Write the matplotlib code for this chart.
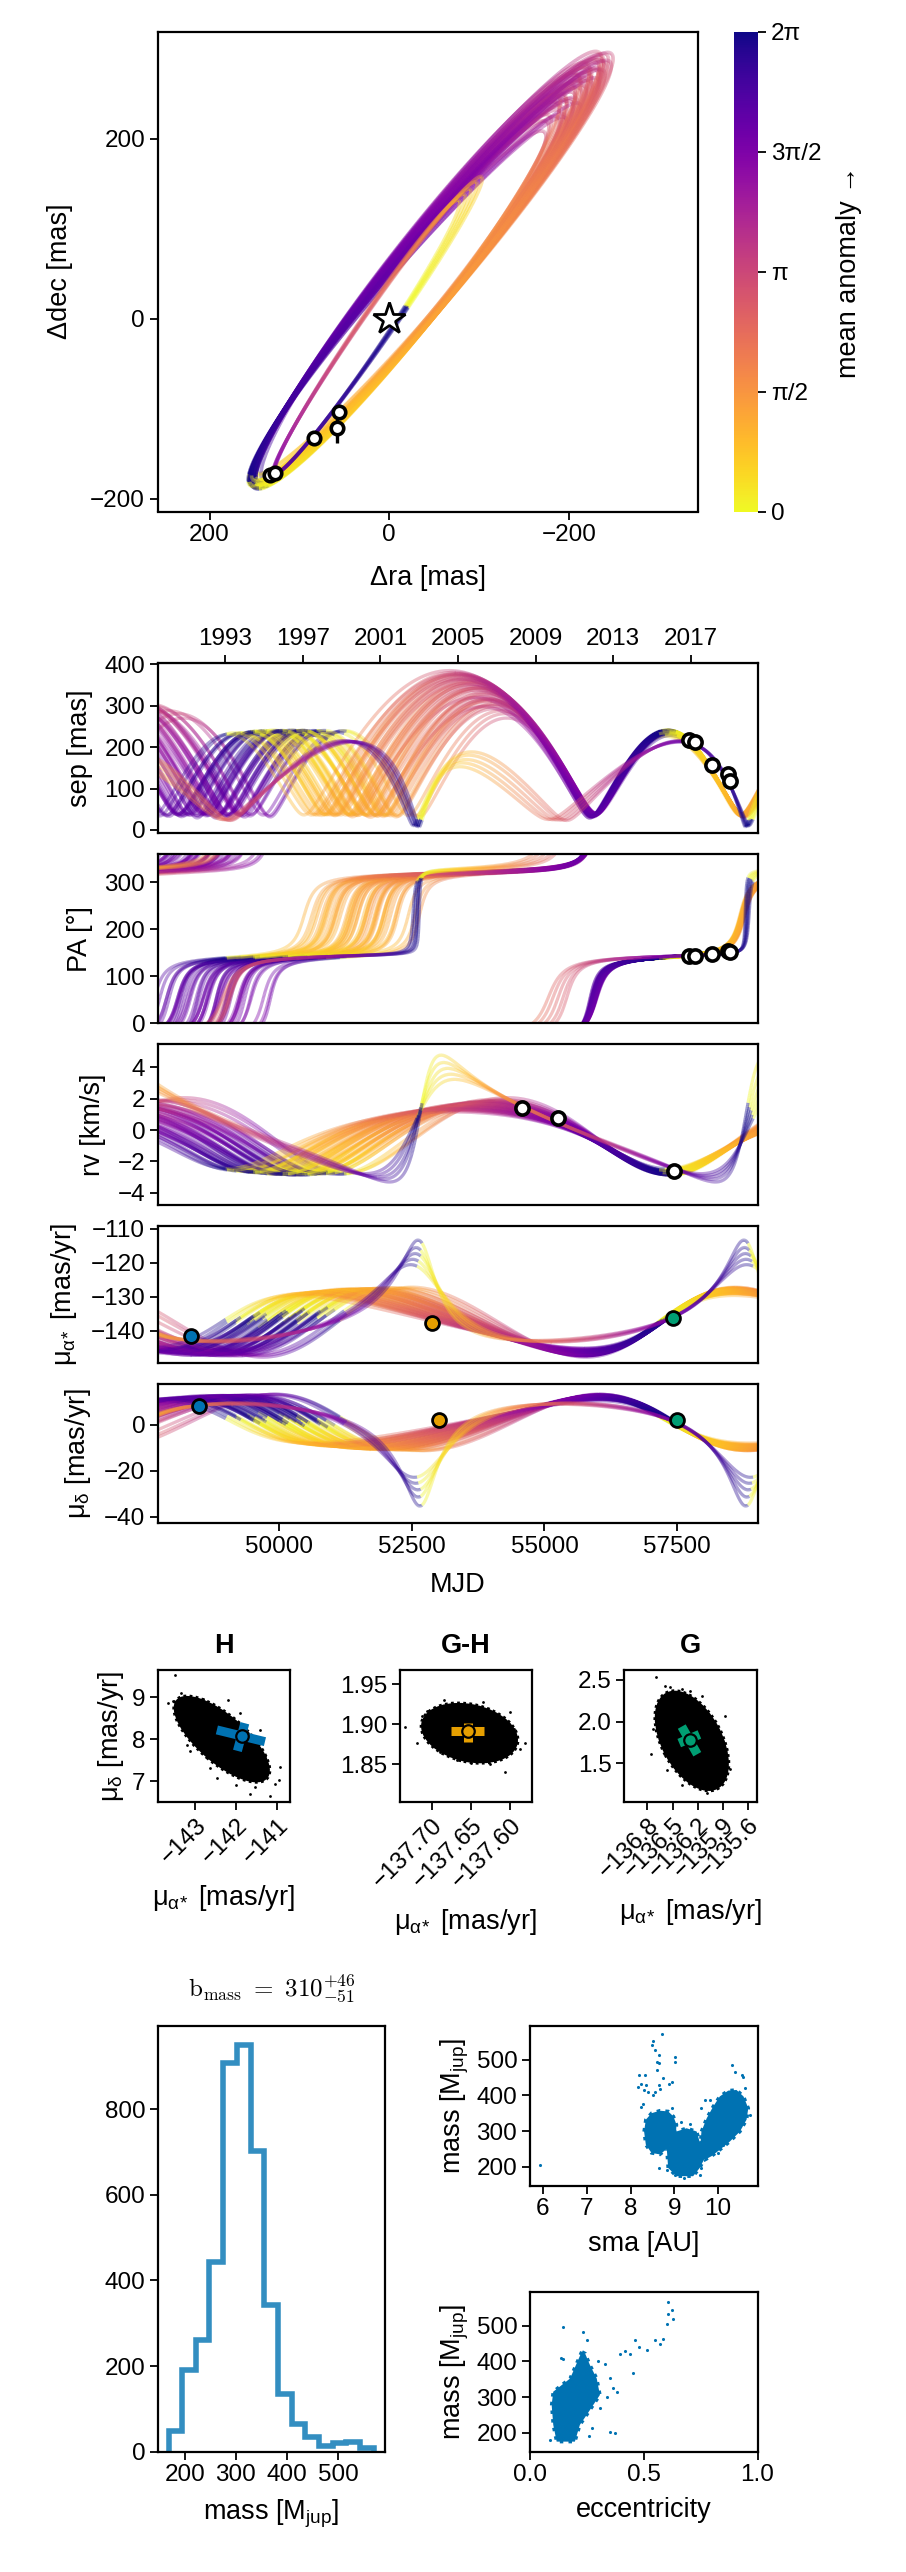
import numpy as np
import matplotlib
matplotlib.use("Agg")
import matplotlib.pyplot as plt
from matplotlib.collections import LineCollection
from matplotlib.patches import Ellipse, Polygon
from matplotlib.colors import Normalize
from matplotlib.cm import ScalarMappable

# ---------------- observations ----------------
astrom_mjd = np.array([57720, 57830, 58150, 58456, 58488])
astrom_ra = np.array([132.5, 126.9, 83.1, 57.5, 55.7])
astrom_dec = np.array([-173.3, -171.5, -132.6, -121.5, -103.7])
astrom_ra_err = np.array([2, 2, 4, 3, 2])
astrom_dec_err = np.array([2, 2, 4, 16, 3])

rv_mjd = np.array([54572, 55248, 57446])
rv_kms = np.array([1.38, 0.79, -2.62])

pm_names = ["H", "G-H", "G"]
pm_colors = ["#0072B2", "#E69F00", "#009E73"]
pm_mjd_ra = np.array([48335, 52884, 57423])
pm_mjd_dec = np.array([48487, 53004, 57500])
pm_ra_obs = np.array([-141.6, -137.654, -136.29])
pm_dec_obs = np.array([8.07, 1.95, 1.90])

# ---------------- posterior orbit draws ----------------
# main family: epochs of the two conjunctions bracketing the 2016 elongation
main_e = [0.06, 0.08, 0.10, 0.10, 0.12, 0.12, 0.13, 0.13, 0.14, 0.14, 0.14, 0.15, 0.15, 0.15,
          0.16, 0.16, 0.16, 0.17, 0.17, 0.17, 0.18, 0.18, 0.18, 0.19, 0.19, 0.19, 0.20, 0.20,
          0.20, 0.21, 0.21, 0.21, 0.22, 0.22, 0.22, 0.23, 0.23, 0.24, 0.24, 0.25,
          0.11, 0.135, 0.155, 0.175, 0.195, 0.205, 0.225, 0.235]
main_a = [255, 260, 266, 262, 272, 268, 276, 270, 279, 276, 262, 282, 280, 276, 286, 287, 270,
          289, 290, 275, 293, 291, 294, 296, 295, 290, 300, 298, 296, 303, 301, 298, 305, 303,
          300, 306, 304, 307, 305, 308,
          270, 278, 284, 291, 297, 301, 305, 306]
main_om = [-6, 5, -3, 9, 0, -10, 3, 12, -4, 6, -14, 1, -8, 10, 7, -2, 16, -5, 4, -16, 0, 9, -7,
           2, -4, 13, -3, 6, -11, 1, -6, 10, -2, 5, -9, 3, -5, 0, 8, -3,
           2, -6, 5, -1, 7, -5, 1, -8]
main_inc = [82.9, 82.5, 83.2, 82.2, 82.7, 83.1, 82.6, 82.1, 83.1, 82.4, 83.4, 82.7, 83.0, 82.2,
            82.3, 82.9, 81.9, 83.0, 82.5, 83.5, 82.7, 82.2, 83.1, 82.6, 82.9, 82.0, 82.9, 82.4,
            83.3, 82.7, 83.0, 82.2, 82.8, 82.5, 83.2, 82.6, 83.0, 82.7, 82.3, 82.9,
            82.8, 83.0, 82.4, 82.8, 82.3, 83.0, 82.7, 83.1]
main_Om = [140.3, 141.2, 140.0, 141.6, 140.7, 139.4, 140.9, 141.9, 140.1, 141.4, 138.9, 140.7,
           139.8, 141.8, 141.6, 140.3, 142.5, 140.0, 141.0, 138.7, 140.5, 141.8, 139.8, 140.7,
           140.1, 142.1, 140.1, 141.2, 139.2, 140.7, 140.0, 141.8, 140.5, 141.0, 139.4, 140.9,
           140.0, 140.5, 141.4, 140.1,
           140.5, 140.0, 141.2, 140.5, 141.4, 140.0, 140.7, 139.6]
main_t1 = [2011.98, 2012.06, 2011.90, 2012.10, 2012.00, 2011.85, 2012.02, 2012.12, 2011.94,
           2012.08, 2011.80, 2012.00, 2011.88, 2012.11, 2012.09, 2011.96, 2012.16, 2011.92,
           2012.04, 2011.78, 2011.99, 2012.11, 2011.90, 2012.01, 2011.94, 2012.14, 2011.95,
           2012.07, 2011.84, 2012.01, 2011.91, 2012.12, 2011.97, 2012.05, 2011.86, 2012.03,
           2011.92, 2012.00, 2012.09, 2011.95,
           2012.03, 2011.91, 2012.06, 2011.98, 2012.08, 2011.92, 2012.00, 2011.88]
main_t2 = [2019.68, 2019.62, 2019.72, 2019.60, 2019.70, 2019.75, 2019.66, 2019.58, 2019.71,
           2019.64, 2019.78, 2019.69, 2019.74, 2019.61, 2019.63, 2019.70, 2019.55, 2019.73,
           2019.66, 2019.80, 2019.69, 2019.61, 2019.74, 2019.68, 2019.72, 2019.58, 2019.71,
           2019.64, 2019.77, 2019.68, 2019.73, 2019.60, 2019.70, 2019.65, 2019.76, 2019.67,
           2019.73, 2019.69, 2019.62, 2019.71,
           2019.67, 2019.73, 2019.65, 2019.70, 2019.63, 2019.72, 2019.69, 2019.75]
main_q = [0.165, 0.160, 0.165, 0.160, 0.155, 0.165, 0.160, 0.150, 0.160, 0.155, 0.170, 0.155,
          0.160, 0.150, 0.155, 0.160, 0.150, 0.160, 0.155, 0.165, 0.155, 0.150, 0.160, 0.150,
          0.155, 0.150, 0.150, 0.150, 0.155, 0.145, 0.150, 0.145, 0.145, 0.145, 0.150, 0.140,
          0.145, 0.140, 0.140, 0.135,
          0.160, 0.160, 0.155, 0.155, 0.150, 0.150, 0.145, 0.145]
main_pmra0 = [-137.45, -137.50, -137.40, -137.55, -137.50, -137.40, -137.50, -137.60, -137.45,
              -137.55, -137.35, -137.50, -137.45, -137.60, -137.55, -137.45, -137.60, -137.45,
              -137.50, -137.35, -137.50, -137.55, -137.45, -137.50, -137.45, -137.60, -137.50,
              -137.55, -137.40, -137.50, -137.45, -137.60, -137.50, -137.55, -137.40, -137.55,
              -137.45, -137.50, -137.60, -137.50,
              -137.50, -137.45, -137.55, -137.50, -137.55, -137.45, -137.50, -137.45]
main_pmdec0 = [0.85, 0.95, 0.80, 1.00, 0.90, 0.80, 0.90, 1.05, 0.85, 0.95, 0.75, 0.90, 0.85,
               1.00, 0.95, 0.85, 1.10, 0.85, 0.90, 0.75, 0.90, 1.00, 0.85, 0.90, 0.85, 1.05,
               0.85, 0.95, 0.80, 0.90, 0.85, 1.00, 0.90, 0.95, 0.80, 0.90, 0.85, 0.90, 0.95, 0.85,
               0.90, 0.85, 0.95, 0.90, 0.95, 0.85, 0.90, 0.85]
main_rv0 = [-0.20, -0.25, -0.15, -0.25, -0.20, -0.15, -0.20, -0.30, -0.20, -0.25, -0.10, -0.20,
            -0.15, -0.30, -0.25, -0.20, -0.30, -0.20, -0.25, -0.10, -0.20, -0.25, -0.15, -0.20,
            -0.20, -0.30, -0.20, -0.25, -0.15, -0.20, -0.20, -0.25, -0.20, -0.25, -0.15, -0.20,
            -0.20, -0.20, -0.25, -0.20,
            -0.20, -0.20, -0.25, -0.20, -0.25, -0.20, -0.20, -0.15]

# high-eccentricity family (periastron close to the 2019.7 conjunction)
ecc_P = [17.34, 17.20, 17.04, 16.95, 16.81]
ecc_e = [0.38, 0.43, 0.48, 0.53, 0.58]
ecc_a = [217.9, 218.0, 217.2, 219.0, 220.8]
ecc_inc = [85.59, 85.60, 85.64, 85.65, 85.67]
ecc_Om = [145.1, 145.4, 145.7, 146.1, 146.5]
ecc_om = [99.4, 100.5, 102.1, 102.8, 103.4]
ecc_tp = [2020.21, 2020.15, 2020.10, 2020.02, 2019.95]
ecc_q = [0.231, 0.240, 0.249, 0.255, 0.262]
ecc_pmra0 = [-136.04, -136.05, -136.04, -136.07, -136.10]
ecc_pmdec0 = [-0.60, -0.62, -0.65, -0.64, -0.63]
ecc_rv0 = [0.04, 0.08, 0.12, 0.15, 0.19]

# ---------------- derived-parameter panels ----------------
hist_edges = [168, 195, 222, 248, 275, 302, 329, 356, 382, 409, 436, 463, 490, 516, 543, 570]
hist_counts = [48, 190, 260, 444, 907, 949, 702, 343, 136, 65, 35, 13, 20, 24, 9]

sma_lobe_left = [(8.31, 299), (8.35, 332), (8.48, 350), (8.67, 357), (8.86, 355), (8.98, 341),
                 (9.05, 318), (9.03, 281), (8.86, 253), (8.67, 235), (8.48, 239), (8.35, 262)]
sma_lobe_bottom = [(8.83, 248), (9.05, 299), (9.28, 308), (9.51, 299), (9.62, 253), (9.74, 235),
                   (9.58, 197), (9.43, 174), (9.05, 174), (8.86, 197)]
sma_lobe_right = [(9.62, 299), (9.74, 336), (9.89, 369), (10.04, 397), (10.23, 413), (10.42, 415),
                  (10.58, 397), (10.69, 364), (10.65, 332), (10.50, 299), (10.27, 271), (10.04, 248),
                  (9.85, 230), (9.70, 220), (9.58, 239)]
sma_pts = [5.93, 8.71, 8.52, 8.48, 8.56, 8.66, 8.60, 8.66, 9.01, 9.01, 8.20, 8.33, 8.25, 8.36,
           8.18, 8.40, 8.31, 8.60, 8.75, 8.94, 8.87, 8.68, 8.56, 8.52, 8.64, 8.25, 10.31, 10.39,
           10.54, 10.58, 8.66, 8.83, 9.01, 9.58, 9.62, 10.00, 10.11, 10.35, 10.46, 9.62, 9.69, 9.81,
           8.28, 8.95, 9.15, 9.35, 9.45, 10.72, 10.62, 9.22]
sma_mass_pts = [205, 571, 553, 540, 526, 512, 493, 489, 508, 494, 458, 456, 433, 428, 424, 410,
                414, 470, 447, 438, 433, 419, 410, 400, 428, 368, 485, 466, 457, 451, 197, 192,
                178, 178, 197, 239, 262, 290, 308, 364, 387, 387, 375, 365, 325, 320, 205, 345,
                420, 168]

ecc_blob = [(0.228, 427), (0.177, 352), (0.103, 315), (0.096, 278), (0.103, 222), (0.118, 175),
            (0.198, 175), (0.220, 222), (0.250, 250), (0.308, 306), (0.294, 352), (0.264, 390),
            (0.243, 422)]
ecc_pts = [0.33, 0.396, 0.44, 0.462, 0.513, 0.55, 0.586, 0.601, 0.608, 0.623, 0.608, 0.63,
           0.147, 0.147, 0.135, 0.235, 0.25, 0.352, 0.367, 0.381, 0.455, 0.352, 0.374, 0.272,
           0.30, 0.42, 0.48, 0.57, 0.31, 0.34, 0.09, 0.26]
ecc_mass_pts = [392, 421, 421, 459, 431, 459, 463, 505, 533, 543, 566, 519, 497, 408, 410, 483,
                459, 352, 324, 315, 366, 203, 199, 213, 400, 428, 440, 450, 270, 300, 180, 190]

pm_cloud_center = [(-142.35, 8.0), (-137.652, 1.889), (-136.27, 1.77)]
pm_cloud_size = [(2.9, 1.15, -40), (0.125, 0.072, -12), (1.30, 0.72, -62)]
pm_out_ra = [[-143.49, -143.65, -143.32, -143.04, -143.20, -142.19, -141.91, -141.42, -140.94,
              -140.96, -141.06, -141.18, -141.67, -142.0, -142.47, -142.64, -143.12, -143.53,
              -142.80, -141.55, -143.35, -141.30],
             [-137.734, -137.719, -137.581, -137.607, -137.588, -137.685, -137.635, -137.626,
              -137.668, -137.706, -137.595, -137.712, -137.600, -137.650, -137.690],
             [-136.70, -136.59, -136.53, -136.39, -136.29, -136.75, -136.57, -135.87, -135.85,
              -135.82, -136.09, -136.23, -136.39, -135.93, -136.73, -136.62, -135.95, -136.15]]
pm_out_dec = [[9.52, 8.86, 8.96, 8.98, 7.86, 8.94, 8.62, 8.22, 7.34, 7.02, 6.94, 6.64, 6.70, 6.9,
               7.08, 7.32, 7.72, 8.9, 8.95, 6.85, 9.10, 7.60],
              [1.897, 1.877, 1.877, 1.841, 1.869, 1.930, 1.928, 1.850, 1.855, 1.917, 1.894,
               1.910, 1.915, 1.852, 1.865],
              [2.537, 2.427, 2.41, 2.39, 2.36, 1.617, 1.42, 2.07, 1.44, 1.43, 1.143, 1.24, 1.24,
               1.50, 1.91, 2.25, 1.25, 2.30]]
pm_marker = [(-141.85, 8.07), (-137.654, 1.891), (-136.292, 1.783)]
pm_bars = [[((-142.47, 8.22), (-141.30, 7.94)), ((-141.79, 8.38), (-141.97, 7.72))],
           [((-137.675, 1.891), (-137.634, 1.891)), ((-137.654, 1.901), (-137.654, 1.878))],
           [((-136.39, 1.94), (-136.205, 1.61)), ((-136.42, 1.743), (-136.18, 1.846))]]

# ---------------- orbit model ----------------
PLX = 31.0
KMS = 4.74047
DT = 1e-3
MJD0 = 51544.5


def yr2mjd(y):
    return MJD0 + (np.asarray(y) - 2000.0) * 365.25


def mjd2yr(m):
    return 2000.0 + (np.asarray(m) - MJD0) / 365.25


def solve_kepler(M, e):
    E = M + e * np.sin(M)
    for _ in range(30):
        E = E - (E - e * np.sin(E) - M) / (1.0 - e * np.cos(E))
    return E


def true_to_mean(nu, e):
    E = 2 * np.arctan(np.sqrt((1 - e) / (1 + e)) * np.tan(nu / 2))
    return E - e * np.sin(E)


def rel_orbit(t, P, a, e, inc, Om, om, tp):
    M = np.mod(2 * np.pi * (np.asarray(t, float) - tp) / P, 2 * np.pi)
    E = solve_kepler(M, e)
    nu = 2 * np.arctan2(np.sqrt(1 + e) * np.sin(E / 2), np.sqrt(1 - e) * np.cos(E / 2))
    r = a * (1 - e * np.cos(E))
    i, O = np.radians(inc), np.radians(Om)
    u = np.radians(om) + nu
    dec = r * (np.cos(O) * np.cos(u) - np.sin(O) * np.sin(u) * np.cos(i))
    ra = r * (np.sin(O) * np.cos(u) + np.cos(O) * np.sin(u) * np.cos(i))
    z = r * np.sin(u) * np.sin(i)
    return ra, dec, z, M


def star_motion(t, s):
    t = np.asarray(t, float)
    rp, dp, zp, _ = rel_orbit(t + DT, *s[:7])
    rm, dm, zm, _ = rel_orbit(t - DT, *s[:7])
    q, pr, pd, rv0 = s[7:11]
    pmra = pr - q * (rp - rm) / (2 * DT)
    pmdec = pd - q * (dp - dm) / (2 * DT)
    rv = rv0 - q * (zp - zm) / (2 * DT) / PLX * KMS
    return pmra, pmdec, rv


samples = []
for k in range(len(main_e)):
    e = main_e[k]
    M1 = true_to_mean(np.radians(-90.0 - main_om[k]), e)
    M2 = true_to_mean(np.radians(90.0 - main_om[k]), e)
    P = 2 * np.pi * (main_t2[k] - main_t1[k]) / (M2 - M1)
    tp = main_t1[k] - M1 * P / (2 * np.pi)
    samples.append((P, main_a[k], e, main_inc[k], main_Om[k], main_om[k], tp,
                    main_q[k], main_pmra0[k], main_pmdec0[k], main_rv0[k]))
for k in range(len(ecc_e)):
    samples.append((ecc_P[k], ecc_a[k], ecc_e[k], ecc_inc[k], ecc_Om[k], ecc_om[k], ecc_tp[k],
                    ecc_q[k], ecc_pmra0[k], ecc_pmdec0[k], ecc_rv0[k]))

# ---------------- figure ----------------
plt.rcParams['font.family'] = ['Liberation Sans', 'DejaVu Sans']
plt.rcParams['mathtext.fontset'] = 'custom'
plt.rcParams['mathtext.rm'] = 'Liberation Sans'
plt.rcParams['mathtext.it'] = 'Liberation Sans:italic'
plt.rcParams['mathtext.bf'] = 'Liberation Sans:bold'

W, H = 906, 2572
fig = plt.figure(figsize=(W / 100, H / 100), dpi=100)
CMAP = plt.get_cmap('plasma_r')
NORM = Normalize(0, 2 * np.pi)
TICK_FS = 17.5
LAB_FS = 19.5
BLUE = "#0072B2"
MUA = r"μ$_{\mathrm{α}\!*}$ [mas/yr]"
MUD = r"μ$_{\mathrm{δ}}$ [mas/yr]"
MJUP = r"mass [M$_{\mathrm{jup}}$]"


def px_axes(l, t, r, b):
    return fig.add_axes([l / W, 1 - b / H, (r - l) / W, (b - t) / H])


def style(ax):
    for sp in ax.spines.values():
        sp.set_linewidth(1.6)
    ax.tick_params(direction='out', length=6, width=1.3, labelsize=TICK_FS, pad=3)


def add_colored(ax, x, y, m, jump=None, lw=2.3, alpha=0.42):
    pts = np.column_stack([x, y])
    segs = np.stack([pts[:-1], pts[1:]], axis=1)
    keep = np.ones(len(segs), bool)
    if jump is not None:
        keep = np.abs(np.diff(y)) < jump
    lc = LineCollection(segs[keep], cmap=CMAP, norm=NORM, linewidths=lw, alpha=alpha)
    lc.set_array(m[:-1][keep])
    ax.add_collection(lc)


# sky plane
ax = px_axes(157.5, 31.6, 698, 511.5)
style(ax)
Mg = np.linspace(0, 2 * np.pi, 600)
for s in samples:
    ra, dec, _, M = rel_orbit(s[6] + Mg / (2 * np.pi) * s[0], *s[:7])
    add_colored(ax, ra, dec, M, lw=2.6, alpha=0.45)
ax.errorbar(astrom_ra, astrom_dec, xerr=astrom_ra_err, yerr=astrom_dec_err, fmt='o', ms=9,
            mfc='white', mec='black', mew=2.6, ecolor='black', elinewidth=2.4, capsize=0, zorder=5)
ax.plot([0], [0], marker='*', ms=24, mfc='white', mec='black', mew=2, zorder=6)
ax.set_xlim(257.9, -343.9)
ax.set_ylim(-214.1, 319.2)
ax.set_xticks([200, 0, -200])
ax.set_yticks([-200, 0, 200])
ax.set_xlabel("Δra [mas]", fontsize=LAB_FS, labelpad=14)
ax.set_ylabel("Δdec [mas]", fontsize=LAB_FS, labelpad=12)

cax = px_axes(734, 31.6, 758, 511.5)
cb = fig.colorbar(ScalarMappable(norm=NORM, cmap=CMAP), cax=cax)
cb.outline.set_visible(False)
cb.set_ticks([0, np.pi / 2, np.pi, 3 * np.pi / 2, 2 * np.pi])
cb.set_ticklabels(["0", "π/2", "π", "3π/2", "2π"])
cax.tick_params(direction='out', length=6, width=1.3, labelsize=TICK_FS)
cb.set_label("mean anomaly →", fontsize=LAB_FS, labelpad=10)

# time series
tt = np.linspace(1989.45, 2020.6, 1800)
mjd_tt = yr2mjd(tt)
rows = [(663.3, 833.3), (854.3, 1023.3), (1044, 1205.3), (1226, 1363.3), (1384, 1523.3)]
ts_axes = [px_axes(157.7, t, 757.5, b) for t, b in rows]
ax_sep, ax_pa, ax_rv, ax_pmra, ax_pmdec = ts_axes
for s in samples:
    ra, dec, z, M = rel_orbit(tt, *s[:7])
    pmra, pmdec, rv = star_motion(tt, s)
    add_colored(ax_sep, mjd_tt, np.hypot(ra, dec), M)
    add_colored(ax_pa, mjd_tt, np.degrees(np.arctan2(ra, dec)) % 360, M, jump=180)
    add_colored(ax_rv, mjd_tt, rv, M)
    add_colored(ax_pmra, mjd_tt, pmra, M)
    add_colored(ax_pmdec, mjd_tt, pmdec, M)

sep_obs = np.hypot(astrom_ra, astrom_dec)
pa_obs = np.degrees(np.arctan2(astrom_ra, astrom_dec)) % 360
mk = dict(ls='none', marker='o', ms=9.5, mfc='white', mec='black', mew=2.6, zorder=5)
ax_sep.plot(astrom_mjd, sep_obs, **mk)
ax_pa.plot(astrom_mjd, pa_obs, **mk)
ax_rv.plot(rv_mjd, rv_kms, **mk)
for k in range(3):
    ax_pmra.plot(pm_mjd_ra[k], pm_ra_obs[k], ls='none', marker='o', ms=10, mfc=pm_colors[k],
                 mec='black', mew=2, zorder=5)
    ax_pmdec.plot(pm_mjd_dec[k], pm_dec_obs[k], ls='none', marker='o', ms=10, mfc=pm_colors[k],
                  mec='black', mew=2, zorder=5)

ylims = [(-8, 402.4), (0, 359.6), (-4.80, 5.49), (-149.5, -109.2), (-42.9, 17.7)]
yticks = [[0, 100, 200, 300, 400], [0, 100, 200, 300], [-4, -2, 0, 2, 4],
          [-140, -130, -120, -110], [-40, -20, 0]]
ylabels = ["sep [mas]", "PA [°]", "rv [km/s]", MUA, MUD]
for a_, yl, yt, lab in zip(ts_axes, ylims, yticks, ylabels):
    style(a_)
    a_.set_xlim(47713, 59013)
    a_.set_ylim(*yl)
    a_.set_yticks(yt)
    a_.set_ylabel(lab, fontsize=LAB_FS, labelpad=8)
    if a_ is not ax_pmdec:
        a_.tick_params(bottom=False, labelbottom=False)
ax_pmdec.set_xticks([50000, 52500, 55000, 57500])
ax_pmdec.set_xlabel("MJD", fontsize=LAB_FS, labelpad=10)
sec = ax_sep.secondary_xaxis('top', functions=(mjd2yr, yr2mjd))
sec.set_xticks([1993, 1997, 2001, 2005, 2009, 2013, 2017])
sec.tick_params(direction='out', length=6, width=1.3, labelsize=TICK_FS)

# Hipparcos / Gaia proper-motion panels
pm_boxes = [(157.5, 290), (399.5, 531.7), (624, 757.4)]
pm_xlim = [(-143.915, -140.69), (-137.741, -137.573), (-137.077, -135.49)]
pm_ylim = [(6.50, 9.65), (1.8034, 1.9674), (1.04, 2.615)]
pm_xt = [[-143, -142, -141], [-137.70, -137.65, -137.60], [-136.8, -136.5, -136.2, -135.9, -135.6]]
pm_xtl = [["−143", "−142", "−141"], ["−137.70", "−137.65", "−137.60"],
          ["−136.8", "−136.5", "−136.2", "−135.9", "−135.6"]]
pm_yt = [[7, 8, 9], [1.85, 1.90, 1.95], [1.5, 2.0, 2.5]]
pm_ytl = [["7", "8", "9"], ["1.85", "1.90", "1.95"], ["1.5", "2.0", "2.5"]]
for k in range(3):
    a_ = px_axes(pm_boxes[k][0], 1670, pm_boxes[k][1], 1802)
    style(a_)
    (cx, cy), (w_, h_, ang) = pm_cloud_center[k], pm_cloud_size[k]
    a_.add_patch(Ellipse((cx, cy), w_, h_, angle=ang, fc='black', ec='black', lw=2.0,
                         ls=(0, (1, 1.2))))
    a_.scatter(pm_out_ra[k], pm_out_dec[k], s=4, color='black', lw=0)
    for (x0, y0), (x1, y1) in pm_bars[k]:
        a_.plot([x0, x1], [y0, y1], color=pm_colors[k], lw=6.5, solid_capstyle='butt', zorder=4)
    a_.plot(*pm_marker[k], marker='o', ms=9, mfc=pm_colors[k], mec='black', mew=1.6, zorder=5)
    a_.set_xlim(*pm_xlim[k])
    a_.set_ylim(*pm_ylim[k])
    a_.set_xticks(pm_xt[k])
    a_.set_xticklabels(pm_xtl[k], rotation=45, ha='right', rotation_mode='anchor')
    a_.set_yticks(pm_yt[k])
    a_.set_yticklabels(pm_ytl[k])
    a_.set_title(pm_names[k], fontsize=LAB_FS, fontweight='bold', pad=12)
    a_.set_xlabel(MUA, fontsize=LAB_FS, labelpad=10)
    if k == 0:
        a_.set_ylabel(MUD, fontsize=LAB_FS)

# mass histogram
axh = px_axes(157.7, 2026.4, 385.4, 2451.8)
style(axh)
axh.stairs(hist_counts, hist_edges, color="#338ec1", linewidth=4)
axh.set_xlim(146.7, 593)
axh.set_ylim(0, 993)
axh.set_xticks([200, 300, 400, 500])
axh.set_yticks([0, 200, 400, 600, 800])
axh.set_xlabel(MJUP, fontsize=LAB_FS, labelpad=8)
axh.set_title(r"$\mathrm{b_{mass}}\ =\ 310^{+46}_{-51}$", fontsize=18, math_fontfamily='cm', pad=22)

ax1 = px_axes(529.8, 2026.4, 757.5, 2185.6)
style(ax1)
for poly in (sma_lobe_left, sma_lobe_bottom, sma_lobe_right):
    ax1.add_patch(Polygon(poly, closed=True, fc=BLUE, ec=BLUE, lw=2.5, ls=(0, (1, 1.5))))
ax1.scatter(sma_pts, sma_mass_pts, s=5, color=BLUE, lw=0)
ax1.set_xlim(5.70, 10.90)
ax1.set_ylim(147.8, 592.5)
ax1.set_xticks([6, 7, 8, 9, 10])
ax1.set_yticks([200, 300, 400, 500])
ax1.set_xlabel("sma [AU]", fontsize=LAB_FS, labelpad=8)
ax1.set_ylabel(MJUP, fontsize=LAB_FS)

ax2 = px_axes(529.8, 2291.8, 757.5, 2451.8)
style(ax2)
ax2.add_patch(Polygon(ecc_blob, closed=True, fc=BLUE, ec=BLUE, lw=2.5, ls=(0, (1, 1.5))))
ax2.scatter(ecc_pts, ecc_mass_pts, s=5, color=BLUE, lw=0)
ax2.set_xlim(0, 1)
ax2.set_ylim(146.5, 595)
ax2.set_xticks([0, 0.5, 1.0])
ax2.set_xticklabels(["0.0", "0.5", "1.0"])
ax2.set_yticks([200, 300, 400, 500])
ax2.set_xlabel("eccentricity", fontsize=LAB_FS, labelpad=8)
ax2.set_ylabel(MJUP, fontsize=LAB_FS)

fig.savefig("out.png", dpi=100)
